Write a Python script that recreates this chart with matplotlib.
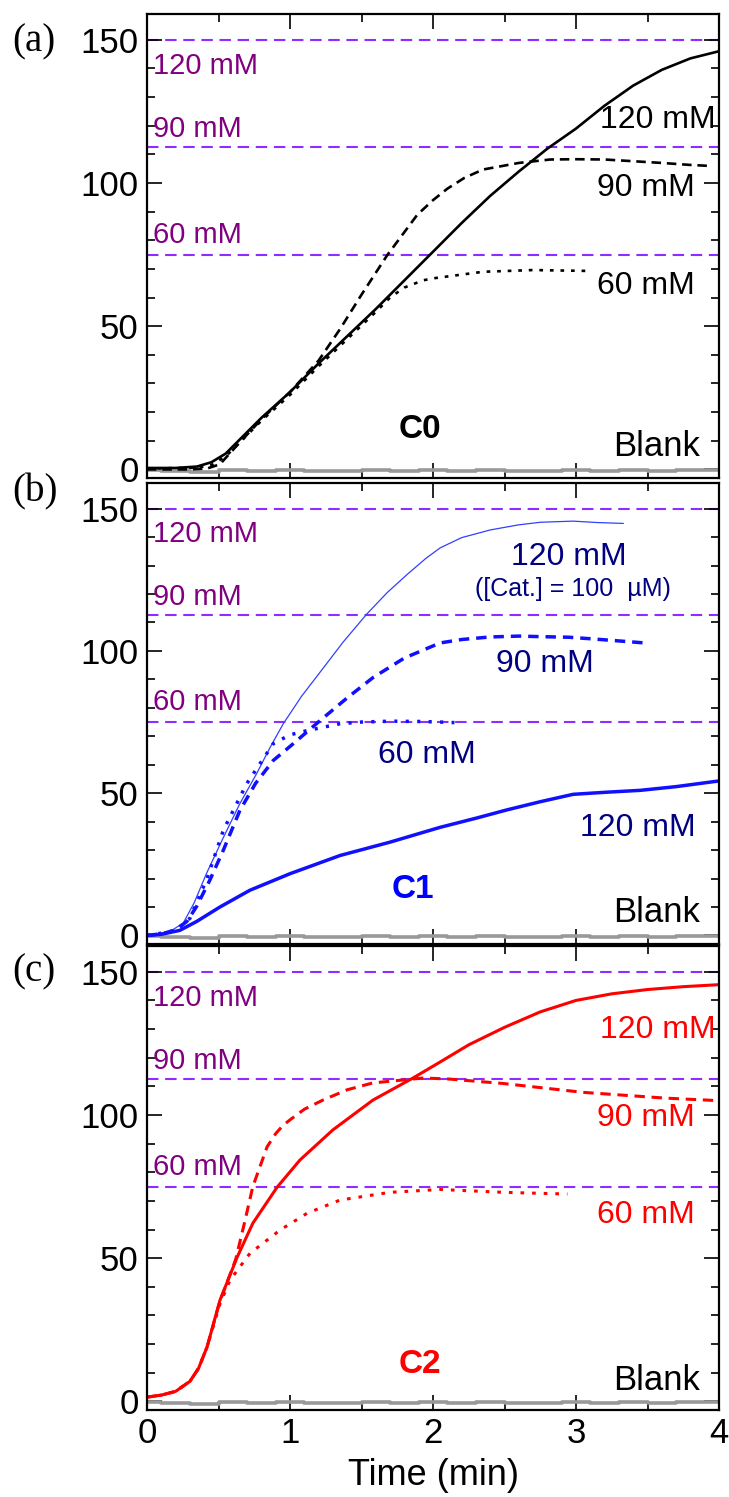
import matplotlib
matplotlib.use("Agg")
import matplotlib.pyplot as plt
from matplotlib.ticker import MultipleLocator

plt.rcParams['font.family'] = ['Liberation Sans', 'DejaVu Sans']

# theoretical maxima for the three substrate concentrations
theory_levels = [150, 112.5, 75]
theory_labels = ["120 mM", "90 mM", "60 mM"]
theory_label_pos = [141, 119, 82]

# blank run (no catalyst), shared by all panels
blank_t = [0, 0.2, 0.4, 0.6, 0.8, 1.0, 1.2, 1.4, 1.6, 1.8, 2.0, 2.2, 2.4, 2.6, 2.8, 3.0, 3.2, 3.4, 3.6, 3.8, 4.0]
blank_v = [-0.2, -0.4, -0.8, -0.3, -0.6, -0.2, -0.7, -0.4, -0.3, -0.7, -0.2, -0.5, -0.3, -0.6, -0.4, -0.2, -0.5, -0.3, -0.4, -0.2, -0.3]

# (a) C0
c0_120_t = [0, 0.2, 0.35, 0.45, 0.55, 0.65, 0.8, 1.0, 1.2, 1.4, 1.6, 1.8, 2.0, 2.2, 2.4, 2.6, 2.8, 3.0, 3.2, 3.4, 3.6, 3.8, 4.0]
c0_120_v = [0.5, 0.5, 1.0, 2.5, 5.5, 10.5, 18, 27, 37, 46.5, 56, 66, 76, 86, 95.5, 104, 112, 119, 127, 134, 139.5, 143.5, 146]
c0_90_t = [0, 0.3, 0.42, 0.51, 0.65, 0.8, 1.0, 1.2, 1.35, 1.5, 1.68, 1.89, 2.0, 2.1, 2.22, 2.35, 2.6, 2.82, 3.0, 3.2, 3.4, 3.6, 3.8, 3.92]
c0_90_v = [0, 0, 0.3, 1.8, 9.5, 17.5, 27, 38, 49, 61, 74.8, 88.9, 94, 98, 101.8, 104.7, 107, 108.2, 108.3, 108.2, 107.6, 107, 106.3, 106]
c0_60_t = [0, 0.35, 0.45, 0.55, 0.65, 0.8, 1.0, 1.2, 1.4, 1.6, 1.7, 1.8, 1.93, 2.0, 2.35, 2.7, 3.08]
c0_60_v = [0.3, 0.6, 1.5, 4.5, 9.5, 17, 26, 36, 45.5, 55, 60, 63.5, 66, 66.7, 69, 69.6, 69.3]

# (b) C1
c1_cat_t = [0, 0.1, 0.18, 0.254, 0.33, 0.417, 0.53, 0.65, 0.767, 0.86, 0.953, 1.08, 1.21, 1.37, 1.536, 1.68, 1.82, 1.95, 2.05, 2.2, 2.4, 2.6, 2.75, 2.98, 3.15, 3.33]
c1_cat_v = [0, 0.8, 2.0, 4.4, 11.5, 21.9, 34, 46.4, 56.9, 66, 74.4, 84, 92.5, 103, 112.9, 120.5, 126.9, 132.5, 136.2, 139.8, 142.5, 144.3, 145.2, 145.6, 145.1, 144.8]
c1_90_t = [0, 0.1, 0.2, 0.28, 0.347, 0.44, 0.534, 0.65, 0.76, 0.883, 1.023, 1.21, 1.4, 1.58, 1.8, 2.05, 2.2, 2.4, 2.6, 2.76, 2.95, 3.12, 3.3, 3.48]
c1_90_v = [0, 0.6, 1.8, 5, 10.2, 19.5, 30, 44, 53.5, 61.5, 67.4, 75.5, 83.5, 90.6, 97.5, 102.8, 104, 104.9, 105.2, 105, 104.8, 104.2, 103.5, 102.8]
c1_60_t = [0, 0.1, 0.2, 0.3, 0.42, 0.534, 0.697, 0.883, 1.0, 1.12, 1.35, 1.5, 1.7, 1.9, 2.05, 2.15]
c1_60_v = [0, 0.8, 1.8, 6, 20, 37, 53.3, 67.4, 70.5, 72, 74.4, 75, 75.3, 75.2, 75, 74.8]
c1_120_t = [0, 0.1, 0.23, 0.35, 0.51, 0.72, 1.0, 1.35, 1.7, 2.05, 2.3, 2.515, 2.75, 2.98, 3.2, 3.45, 3.7, 4.0]
c1_120_v = [0, 0.4, 1.8, 5, 10, 15.9, 21.7, 28.1, 32.8, 38, 41.2, 44.1, 47, 49.6, 50.3, 51, 52.3, 54.3]

# (c) C2
c2_120_t = [0, 0.1, 0.2, 0.3, 0.36, 0.42, 0.51, 0.63, 0.74, 0.91, 1.07, 1.3, 1.58, 1.86, 2.05, 2.25, 2.5, 2.75, 3.0, 3.25, 3.5, 3.75, 4.0]
c2_120_v = [1.5, 2.2, 3.5, 7.0, 11.5, 19, 35.3, 50.3, 62.2, 74.8, 84.3, 94.8, 105.2, 112.9, 118.5, 124.5, 130.6, 136, 140, 142.3, 143.8, 144.8, 145.5]
c2_90_t = [0, 0.1, 0.2, 0.3, 0.36, 0.42, 0.51, 0.62, 0.68, 0.74, 0.84, 0.9, 0.95, 1.0, 1.1, 1.23, 1.4, 1.58, 1.93, 2.1, 2.49, 3.05, 3.62, 4.0]
c2_90_v = [1.5, 2.2, 3.5, 7.0, 11.5, 19, 35, 49.5, 62, 75, 88.9, 93.5, 96.3, 98.3, 102, 105.2, 108.8, 111.2, 112.9, 112.6, 111, 107.9, 105.9, 105]
c2_60_t = [0, 0.1, 0.2, 0.3, 0.36, 0.42, 0.51, 0.58, 0.72, 0.93, 1.12, 1.35, 1.7, 2.05, 2.49, 2.94]
c2_60_v = [1.5, 2.2, 3.5, 7.0, 11.5, 19, 34, 42.3, 51.7, 59.8, 65.7, 70.3, 73, 74, 73, 72.4]

W, H = 729, 1497
fig = plt.figure(figsize=(W / 100, H / 100), dpi=100)


def frac(top_px, bot_px):
    return [147 / W, 1 - bot_px / H, (719 - 147) / W, (bot_px - top_px) / H]


ax_a = fig.add_axes(frac(14, 478))
ax_b = fig.add_axes(frac(483, 944))
ax_c = fig.add_axes(frac(946, 1410))
axes = [ax_a, ax_b, ax_c]

purple = '#8f2cff'
purple_text = '#800080'

for ax in axes:
    ax.set_xlim(0, 4)
    ax.set_ylim(-3, 159)
    ax.xaxis.set_major_locator(MultipleLocator(1))
    ax.xaxis.set_minor_locator(MultipleLocator(0.5))
    ax.yaxis.set_major_locator(MultipleLocator(50))
    ax.yaxis.set_minor_locator(MultipleLocator(10))
    ax.tick_params(which='both', direction='in', top=True, right=True, width=1.2, labelsize=25)
    ax.tick_params(which='major', length=11)
    ax.tick_params(which='minor', length=5.5)
    ax.tick_params(axis='y', pad=6)
    ax.tick_params(axis='x', pad=5)
    for s in ax.spines.values():
        s.set_linewidth(1.6)
    for lvl, lab, ly in zip(theory_levels, theory_labels, theory_label_pos):
        ax.axhline(lvl, color=purple, lw=1.5, dashes=(5.5, 3.2), zorder=1)
        ax.text(0.04, ly, lab, color=purple_text, fontsize=21, ha='left', va='center')
    ax.plot(blank_t, blank_v, color='#999999', lw=2.6, drawstyle='steps-mid', zorder=2)

for ax in [ax_a, ax_b]:
    ax.tick_params(axis='x', labelbottom=False)

# panel (a)
ax_a.plot(c0_120_t, c0_120_v, color='black', lw=1.9)
ax_a.plot(c0_90_t, c0_90_v, color='black', lw=1.9, dashes=(3.6, 2.2))
ax_a.plot(c0_60_t, c0_60_v, color='black', lw=1.9, dashes=(1.4, 2.6))
ax_a.text(3.17, 122, "120 mM", fontsize=23, ha='left', va='center')
ax_a.text(3.15, 98.3, "90 mM", fontsize=23, ha='left', va='center')
ax_a.text(3.15, 64, "60 mM", fontsize=23, ha='left', va='center')
ax_a.text(1.91, 14, "C0", fontsize=24, fontweight='bold', ha='center', va='center')
ax_a.text(3.87, 8, "Blank", fontsize=25, ha='right', va='center')

# panel (b)
blue = '#1010ff'
navy = '#000080'
ax_b.plot(c1_cat_t, c1_cat_v, color='#3040ff', lw=0.9)
ax_b.plot(c1_90_t, c1_90_v, color=blue, lw=2.5, dashes=(3.0, 2.0))
ax_b.plot(c1_60_t, c1_60_v, color=blue, lw=2.5, dashes=(0.9, 2.4))
ax_b.plot(c1_120_t, c1_120_v, color=blue, lw=2.5)
ax_b.text(2.95, 133, "120 mM", color=navy, fontsize=23, ha='center', va='center')
ax_b.text(2.98, 121.7, "([Cat.] = 100  \u00b5M)", color=navy, fontsize=18, ha='center', va='center')
ax_b.text(2.78, 95.5, "90 mM", color=navy, fontsize=23, ha='center', va='center')
ax_b.text(1.96, 63.3, "60 mM", color=navy, fontsize=23, ha='center', va='center')
ax_b.text(3.43, 37.8, "120 mM", color=navy, fontsize=23, ha='center', va='center')
ax_b.text(1.86, 16, "C1", color='#0000ff', fontsize=24, fontweight='bold', ha='center', va='center')
ax_b.text(3.87, 8, "Blank", fontsize=25, ha='right', va='center')

# panel (c)
red = '#ff0000'
ax_c.plot(c2_120_t, c2_120_v, color=red, lw=2.2)
ax_c.plot(c2_90_t, c2_90_v, color=red, lw=2.2, dashes=(3.4, 2.2))
ax_c.plot(c2_60_t, c2_60_v, color=red, lw=2.2, dashes=(1.2, 2.6))
ax_c.text(3.17, 129.7, "120 mM", color=red, fontsize=23, ha='left', va='center')
ax_c.text(3.15, 99, "90 mM", color=red, fontsize=23, ha='left', va='center')
ax_c.text(3.15, 65, "60 mM", color=red, fontsize=23, ha='left', va='center')
ax_c.text(1.91, 13, "C2", color=red, fontsize=24, fontweight='bold', ha='center', va='center')
ax_c.text(3.87, 7.3, "Blank", fontsize=25, ha='right', va='center')

ax_c.set_xlabel("Time (min)", fontsize=26, labelpad=6)

# panel letters
for lab, ypx in [("(a)", 42), ("(b)", 492), ("(c)", 972)]:
    fig.text(12 / W, 1 - ypx / H, lab, family=['Liberation Serif', 'DejaVu Serif'],
             fontsize=28, ha='left', va='center')

fig.savefig("out.png", dpi=100)
